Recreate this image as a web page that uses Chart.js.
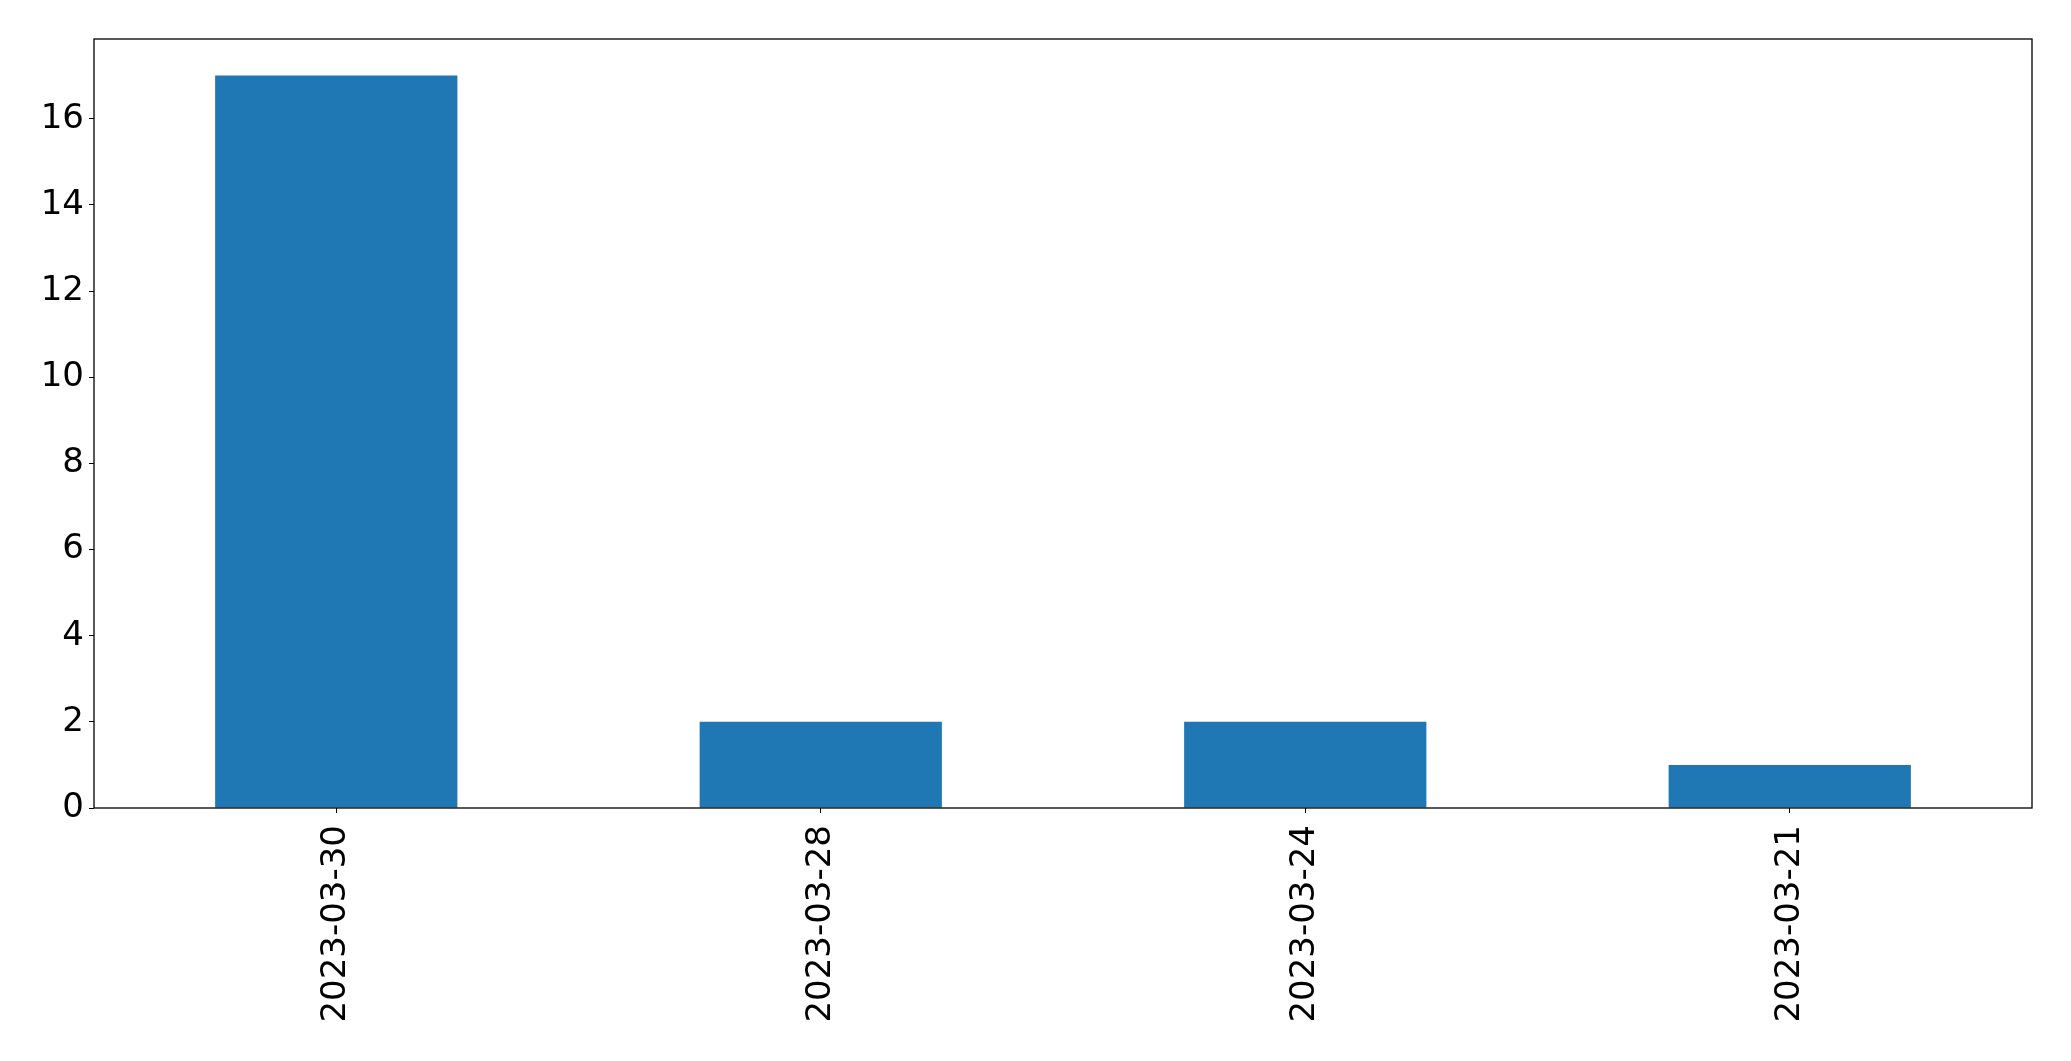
<!DOCTYPE html>
<html>
<head>
<meta charset="utf-8">
<script src="https://cdn.jsdelivr.net/npm/chart.js@4"></script>
<style>
  html, body { margin: 0; padding: 0; background: #fff; }
  #wrap { width: 2071px; height: 1061px; }
</style>
</head>
<body>
<div id="wrap"><canvas id="graph"></canvas></div>
<script>
const categories = ['2023-03-30', '2023-03-28', '2023-03-24', '2023-03-21'];
const counts = [17, 2, 2, 1];
const yTicks = [0, 2, 4, 6, 8, 10, 12, 14, 16];

// box round the plot area, like matplotlib's spines
const frame = {
    id: 'frame',
    afterDatasetsDraw(chart) {
        const a = chart.chartArea;
        const ctx = chart.ctx;
        ctx.save();
        ctx.strokeStyle = '#000';
        ctx.lineWidth = 1.3;
        ctx.strokeRect(a.left, a.top, a.right - a.left, a.bottom - a.top);
        ctx.restore();
    }
};

const data = {
    labels: categories,
    datasets: [{
        data: counts,
        backgroundColor: '#1f77b4',
        categoryPercentage: 1,
        barPercentage: 0.5,
    }]
};

const config = {
    type: 'bar',
    data: data,
    plugins: [frame],
    options: {
        responsive: true,
        maintainAspectRatio: false,
        animation: false,
        layout: { padding: { top: 39, right: 39, left: 0, bottom: 0 } },
        plugins: { legend: { display: false }, tooltip: { enabled: false } },
        scales: {
            x: {
                grid: { offset: false, drawOnChartArea: false, drawTicks: true, tickLength: 5, color: '#000' },
                border: { display: false },
                ticks: {
                    color: '#000',
                    font: { family: 'DejaVu Sans', size: 34 },
                    minRotation: 90,
                    maxRotation: 90,
                    padding: 12,
                    autoSkip: false,
                },
                afterFit: (scale) => { scale.height = 253; }
            },
            y: {
                min: 0,
                max: 17.85,
                grid: { drawOnChartArea: false, drawTicks: true, tickLength: 5, color: '#000' },
                border: { display: false },
                ticks: {
                    color: '#000',
                    font: { family: 'DejaVu Sans', size: 34 },
                    stepSize: 2,
                    padding: 5,
                },
                afterBuildTicks: (scale) => {
                    scale.ticks = yTicks.map(v => ({ value: v }));
                },
                afterFit: (scale) => { scale.width = 94; }
            }
        }
    }
};

new Chart(document.querySelector('#graph'), config);
</script>
</body>
</html>
